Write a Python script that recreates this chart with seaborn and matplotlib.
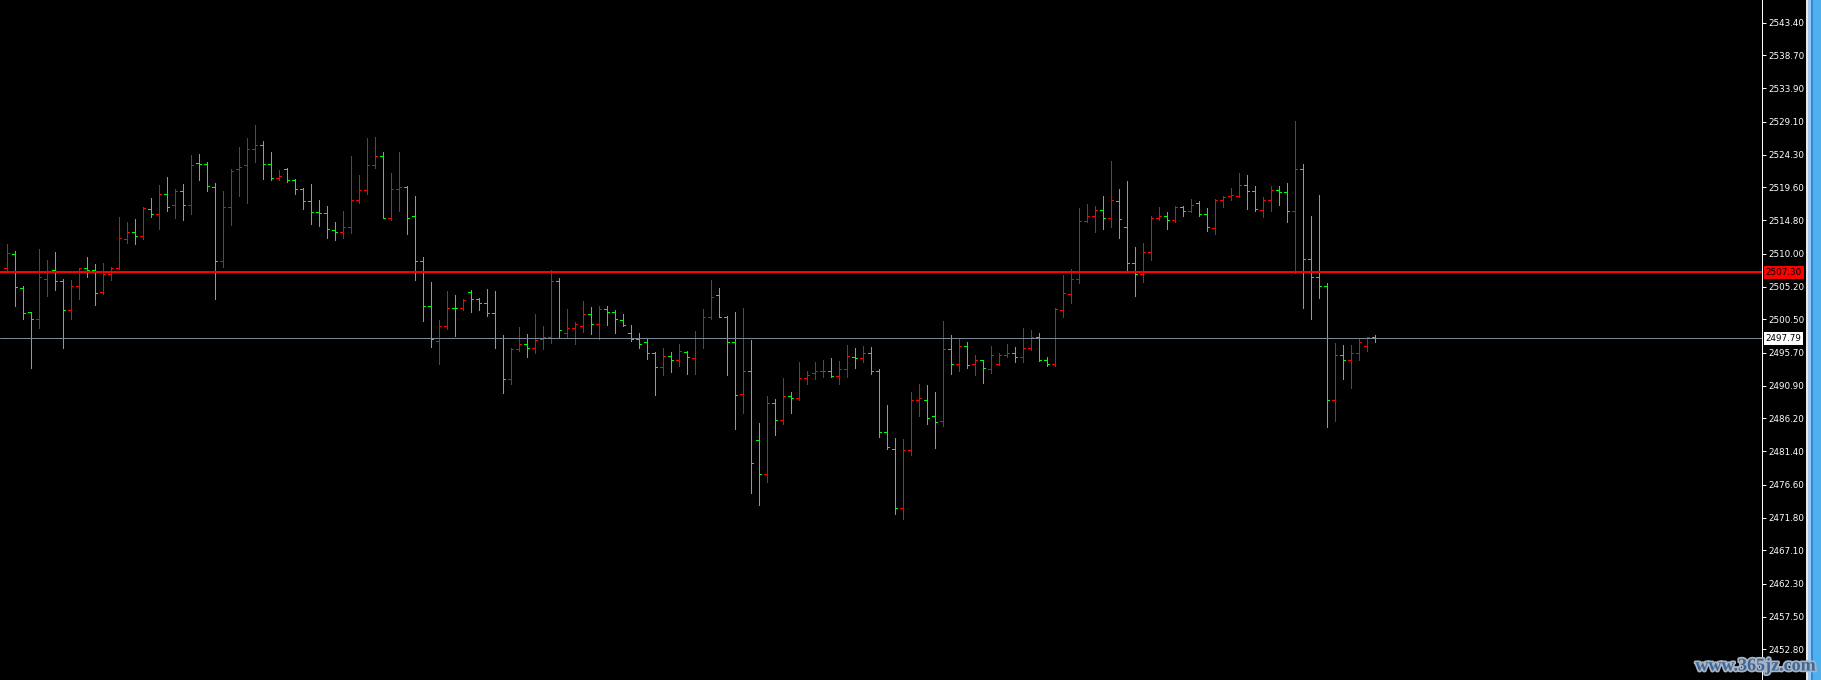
import numpy as np
import pandas as pd
import matplotlib
matplotlib.use("Agg")
import matplotlib.pyplot as plt
import matplotlib.patheffects as pe
from matplotlib.patches import Rectangle
import seaborn as sns

# OHLC bars (one per bar, left to right)
opens = [
    2507.9, 2510.0, 2505.1, 2501.5, 2500.5, 2506.4, 2507.6, 2506.1, 2501.8, 2505.3,
    2507.9, 2507.7, 2504.5, 2507.1, 2508.0, 2512.1, 2513.2, 2512.6, 2516.5, 2515.7,
    2518.6, 2517.0, 2519.1, 2517.0, 2523.1, 2522.9, 2519.7, 2509.0, 2516.7, 2522.2,
    2522.8, 2525.1, 2525.7, 2522.9, 2521.0, 2522.3, 2520.7, 2519.4, 2517.6, 2516.0,
    2515.9, 2513.4, 2513.2, 2513.8, 2517.7, 2519.2, 2522.8, 2524.1, 2515.1, 2519.3,
    2519.7, 2515.4, 2509.0, 2502.4, 2497.4, 2499.6, 2502.2, 2502.2, 2504.4, 2503.4,
    2502.8, 2501.4, 2497.8, 2491.9, 2496.2, 2496.9, 2496.3, 2497.6, 2498.0, 2506.1,
    2498.6, 2499.3, 2499.6, 2501.3, 2499.8, 2502.0, 2501.5, 2500.4, 2498.5, 2497.6,
    2497.2, 2495.6, 2493.6, 2495.2, 2494.6, 2495.8, 2494.9, 2497.8, 2500.8, 2504.0,
    2500.8, 2497.3, 2489.7, 2493.1, 2483.0, 2478.2, 2488.4, 2485.9, 2489.4, 2489.2,
    2492.0, 2492.7, 2493.0, 2493.1, 2492.3, 2493.3, 2495.0, 2494.9, 2495.7, 2493.1,
    2484.2, 2481.7, 2473.2, 2481.6, 2488.9, 2488.9, 2486.5, 2485.8, 2496.2, 2494.0,
    2496.7, 2494.0, 2494.6, 2493.3, 2494.0, 2495.3, 2495.7, 2495.0, 2496.3, 2498.0,
    2494.6, 2494.1, 2501.8, 2504.1, 2506.4, 2514.7, 2515.4, 2516.3, 2515.1, 2517.6,
    2513.8, 2508.6, 2507.0, 2510.3, 2515.1, 2515.5, 2514.8, 2516.7, 2516.1, 2517.3,
    2515.8, 2513.7, 2517.7, 2518.3, 2518.3, 2519.9, 2519.1, 2516.3, 2517.7, 2519.2,
    2518.9, 2516.1, 2522.2, 2509.3, 2506.6, 2505.4, 2488.9, 2495.4, 2494.6, 2495.7,
    2496.7, 2497.9,
]
highs = [
    2511.4, 2510.4, 2505.3, 2501.6, 2510.7, 2509.1, 2510.2, 2506.3, 2506.2, 2508.0,
    2509.5, 2508.5, 2508.7, 2508.1, 2515.3, 2514.6, 2515.0, 2516.7, 2518.0, 2519.9,
    2521.1, 2519.3, 2520.1, 2524.3, 2524.4, 2523.2, 2520.2, 2519.1, 2522.2, 2525.4,
    2526.7, 2528.6, 2526.3, 2524.7, 2522.1, 2522.4, 2520.8, 2519.5, 2520.1, 2517.8,
    2516.9, 2514.6, 2516.2, 2524.1, 2521.4, 2526.7, 2526.9, 2524.7, 2521.7, 2524.7,
    2519.8, 2518.3, 2509.5, 2505.9, 2500.4, 2504.6, 2504.0, 2503.5, 2504.8, 2503.6,
    2504.9, 2504.6, 2498.2, 2496.4, 2499.4, 2498.4, 2501.3, 2499.5, 2507.6, 2506.5,
    2502.0, 2500.1, 2503.2, 2502.3, 2502.4, 2502.4, 2501.9, 2501.3, 2499.7, 2498.5,
    2497.7, 2495.8, 2496.4, 2495.8, 2496.9, 2496.0, 2498.8, 2502.0, 2506.2, 2505.0,
    2501.0, 2501.6, 2502.1, 2497.5, 2485.5, 2489.4, 2489.0, 2492.0, 2490.0, 2494.3,
    2493.0, 2494.3, 2494.6, 2494.9, 2494.5, 2496.8, 2496.4, 2496.6, 2496.5, 2493.3,
    2488.1, 2483.3, 2483.2, 2490.0, 2491.2, 2491.0, 2490.0, 2500.3, 2498.2, 2497.8,
    2497.3, 2495.4, 2494.7, 2496.7, 2495.6, 2496.9, 2496.5, 2499.2, 2498.9, 2498.5,
    2495.0, 2502.1, 2506.9, 2507.8, 2516.6, 2517.2, 2516.9, 2518.3, 2523.4, 2519.3,
    2520.5, 2511.0, 2511.5, 2515.4, 2516.7, 2516.0, 2516.9, 2516.9, 2517.9, 2517.6,
    2516.6, 2517.9, 2518.3, 2519.5, 2521.7, 2521.4, 2519.8, 2518.2, 2519.8, 2519.8,
    2520.2, 2529.2, 2523.0, 2515.5, 2518.5, 2505.8, 2497.1, 2496.8, 2496.8, 2497.8,
    2497.9, 2498.2,
]
lows = [
    2507.6, 2502.5, 2500.6, 2493.5, 2499.3, 2503.9, 2504.8, 2496.3, 2500.5, 2503.4,
    2506.6, 2502.6, 2504.2, 2506.2, 2507.8, 2511.6, 2511.4, 2512.1, 2515.3, 2513.6,
    2516.2, 2515.1, 2514.9, 2515.8, 2520.7, 2519.0, 2503.5, 2508.1, 2514.2, 2518.4,
    2517.4, 2523.3, 2520.8, 2520.7, 2520.6, 2520.3, 2518.7, 2516.5, 2514.3, 2514.0,
    2512.2, 2512.0, 2512.3, 2513.0, 2517.4, 2518.7, 2522.4, 2515.1, 2514.9, 2516.1,
    2512.9, 2506.2, 2500.2, 2496.5, 2494.1, 2499.1, 2498.1, 2501.8, 2501.6, 2501.8,
    2501.0, 2496.4, 2489.9, 2491.2, 2496.0, 2495.1, 2495.7, 2496.2, 2497.1, 2498.0,
    2498.0, 2497.0, 2498.7, 2498.4, 2497.6, 2499.7, 2498.6, 2499.6, 2497.4, 2496.3,
    2494.8, 2489.6, 2492.4, 2492.9, 2493.8, 2492.6, 2492.6, 2496.4, 2500.5, 2500.8,
    2492.5, 2484.7, 2487.0, 2475.4, 2473.6, 2477.0, 2483.8, 2485.4, 2486.9, 2488.9,
    2491.2, 2491.9, 2492.1, 2492.1, 2491.2, 2492.2, 2493.4, 2494.4, 2492.6, 2483.5,
    2481.8, 2472.4, 2471.7, 2480.9, 2486.6, 2485.4, 2481.9, 2485.1, 2492.6, 2493.1,
    2493.4, 2492.4, 2491.3, 2492.8, 2493.9, 2495.0, 2494.4, 2494.4, 2496.1, 2494.5,
    2493.7, 2493.8, 2500.9, 2502.8, 2505.8, 2514.6, 2513.2, 2513.5, 2513.9, 2512.3,
    2507.4, 2503.9, 2505.9, 2509.1, 2514.8, 2513.5, 2514.6, 2515.4, 2516.0, 2515.4,
    2513.3, 2512.9, 2516.8, 2517.7, 2518.2, 2516.5, 2516.2, 2515.3, 2516.2, 2517.1,
    2514.6, 2507.2, 2502.2, 2500.5, 2503.6, 2485.0, 2485.8, 2491.9, 2490.6, 2494.7,
    2496.0, 2497.3,
]
closes = [
    2510.1, 2505.2, 2501.4, 2500.5, 2506.6, 2507.5, 2506.1, 2501.8, 2505.3, 2507.9,
    2507.7, 2504.3, 2507.1, 2508.0, 2512.3, 2513.1, 2512.6, 2516.6, 2515.7, 2518.6,
    2516.7, 2519.1, 2517.0, 2522.8, 2522.9, 2519.8, 2509.0, 2516.7, 2522.0, 2522.5,
    2525.1, 2525.7, 2522.9, 2521.0, 2521.2, 2520.7, 2519.4, 2517.6, 2516.0, 2515.9,
    2513.5, 2513.2, 2513.8, 2517.7, 2519.2, 2522.8, 2524.1, 2515.2, 2519.4, 2519.6,
    2515.2, 2509.0, 2502.4, 2497.6, 2499.5, 2502.2, 2502.1, 2503.3, 2503.4, 2502.8,
    2501.4, 2497.8, 2491.9, 2496.2, 2496.9, 2496.3, 2497.5, 2498.0, 2506.1, 2498.9,
    2499.3, 2499.8, 2501.3, 2499.8, 2502.0, 2501.5, 2500.5, 2499.7, 2497.6, 2497.0,
    2495.6, 2493.6, 2495.2, 2494.7, 2495.9, 2495.0, 2497.8, 2500.8, 2503.8, 2500.8,
    2497.3, 2489.5, 2493.1, 2479.8, 2478.2, 2488.4, 2486.0, 2489.4, 2489.2, 2492.0,
    2492.5, 2493.0, 2493.1, 2492.3, 2493.3, 2495.2, 2494.9, 2495.7, 2493.0, 2484.2,
    2482.1, 2473.2, 2481.6, 2488.9, 2489.1, 2486.3, 2485.6, 2496.2, 2494.0, 2496.7,
    2493.9, 2494.6, 2493.4, 2495.4, 2495.3, 2495.7, 2495.0, 2496.3, 2498.0, 2494.7,
    2494.1, 2502.0, 2504.3, 2506.3, 2514.7, 2515.4, 2516.3, 2515.1, 2517.7, 2515.0,
    2508.6, 2507.0, 2510.3, 2515.1, 2515.5, 2514.8, 2516.8, 2516.1, 2517.1, 2515.8,
    2513.8, 2517.7, 2518.2, 2518.5, 2519.9, 2519.1, 2516.4, 2517.7, 2519.2, 2518.9,
    2516.1, 2522.2, 2509.3, 2506.6, 2505.4, 2488.9, 2495.4, 2494.6, 2495.7, 2497.2,
    2497.9, 2497.79,
]

level_price = 2507.30      # red horizontal line
bid_price = 2497.79        # grey bid line
price_ticks = ["2543.40", "2538.70", "2533.90", "2529.10", "2524.30", "2519.60",
               "2514.80", "2510.00", "2505.20", "2500.50", "2495.70", "2490.90",
               "2486.20", "2481.40", "2476.60", "2471.80", "2467.10", "2462.30",
               "2457.50", "2452.80"]
watermark = "www.365jz.com"

W, H = 1821, 680
PLOT_W = 1762
BAR_PX = 8

sns.set_theme(style="ticks", rc={
    "axes.facecolor": "black",
    "figure.facecolor": "black",
    "savefig.facecolor": "black",
})
plt.rcParams["font.family"] = ["DejaVu Sans"]

df = pd.DataFrame({"open": opens, "high": highs, "low": lows, "close": closes})
df["bar"] = np.arange(len(df))
df["up"] = df["close"] > df["open"]
pal = sns.color_palette(["#00ff00", "#ff0000"])
df["color"] = [pal[1] if u else pal[0] for u in df["up"]]

fig = plt.figure(figsize=(W / 100, H / 100), dpi=100)
ax = fig.add_axes([0, 0, PLOT_W / W, 1])

px = 0.72  # one pixel in points
tick = 0.32
ax.vlines(df["bar"], df["low"], df["high"], colors=df["color"], lw=px,
          antialiased=False, zorder=2)
ax.hlines(df["open"], df["bar"] - tick, df["bar"], colors=df["color"], lw=px,
          antialiased=False, zorder=2)
ax.hlines(df["close"], df["bar"], df["bar"] + tick, colors=df["color"], lw=px,
          antialiased=False, zorder=2)

ax.axhline(level_price, color="#ff0000", lw=2 * px, zorder=3)
ax.axhline(bid_price, color="#778899", lw=px, zorder=3)

x0 = -6.7 / BAR_PX
ax.set_xlim(x0, x0 + PLOT_W / BAR_PX)
ax.set_ylim(2448.36, 2546.68)

ax.set_xticks([])
ax.set_yticks([float(t) for t in price_ticks])
ax.set_yticklabels(price_ticks)
ax.yaxis.tick_right()
ax.tick_params(axis="y", colors="white", labelcolor="white", length=3,
               width=px, pad=1.5, labelsize=6.3, direction="out")
for side in ["left", "top", "bottom"]:
    ax.spines[side].set_visible(False)
ax.spines["right"].set_color("white")
ax.spines["right"].set_linewidth(px)

# price labels on the axis
tr = ax.get_yaxis_transform()
ax.text(1 + 3.5 / PLOT_W, level_price, f"{level_price:.2f}", transform=tr,
        ha="left", va="center", fontsize=6.3, color="black", clip_on=False,
        bbox=dict(boxstyle="square,pad=0.22", fc="#ff0000", ec="none"), zorder=5)
ax.text(1 + 3.5 / PLOT_W, bid_price, f"{bid_price:.2f}", transform=tr,
        ha="left", va="center", fontsize=6.3, color="black", clip_on=False,
        bbox=dict(boxstyle="square,pad=0.22", fc="white", ec="none"), zorder=5)

# window frame / scrollbar strip on the right
fig.add_artist(Rectangle((1806 / W, 0), 2 / W, 1, transform=fig.transFigure,
                         fc="#e8e8e8", ec="none"))
fig.add_artist(Rectangle((1808 / W, 0), 3 / W, 1, transform=fig.transFigure,
                         fc="#9cc8ee", ec="none"))
fig.add_artist(Rectangle((1811 / W, 0), 2 / W, 1, transform=fig.transFigure,
                         fc="#2f8ad8", ec="none"))
fig.add_artist(Rectangle((1813 / W, 0), 8 / W, 1, transform=fig.transFigure,
                         fc="#4fb0f0", ec="none"))

fig.text(1815 / W, 1 - 666 / H, watermark, ha="right", va="center",
         fontsize=13, fontweight="bold", family="Liberation Serif",
         color="#3d6896",
         path_effects=[pe.withStroke(linewidth=2.5, foreground="#aab4c4")])

fig.savefig("out.png", dpi=100, facecolor="black")
